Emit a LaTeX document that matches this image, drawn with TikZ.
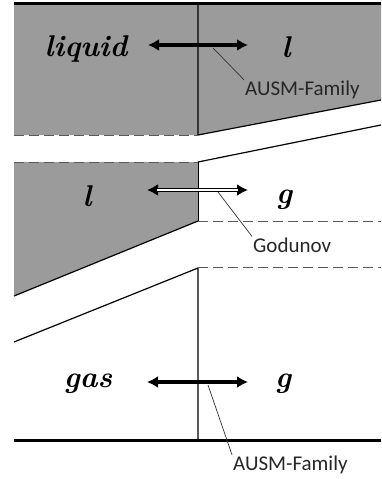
\documentclass[tikz,border=0pt]{standalone}
\usepackage{fontspec}
\newfontfamily\schemefont{Carlito}
\usetikzlibrary{arrows.meta}

\tikzset{
  phase/.style={font=\fontsize{30}{34}\selectfont\bfseries\itshape, inner sep=0pt, anchor=base},
  scheme/.style={font=\schemefont\fontsize{21}{24}\selectfont, inner sep=1pt, anchor=west, text=black!85},
  wall/.style={line width=3pt},
  iface/.style={line width=1.2pt},
  free/.style={dash pattern=on 10pt off 5pt, line width=0.9pt, black!65},
  flux/.style={{Latex[length=11pt,width=12pt]}-{Latex[length=11pt,width=12pt]}, line width=3.2pt},
  pointer/.style={line width=0.7pt, black!80}
}
\definecolor{liqfill}{RGB}{155,155,155}

\begin{document}
\begin{tikzpicture}[x=1pt,y=-1pt]
\useasboundingbox (0,0) rectangle (381,479);

% liquid regions
\fill[liqfill] (14,4) -- (381,4) -- (381,100) -- (198,135) -- (14,135) -- cycle;
\fill[liqfill] (14,162) -- (198,162) -- (198,221) -- (14,296) -- cycle;

% walls and interfaces
\draw[wall] (14,3) -- (381,3);
\draw[wall] (14,440) -- (381,440);
\draw[iface] (198,5) -- (198,135) -- (381,100);
\draw[iface] (198,162) -- (381,125);
\draw[iface, line width=0.8pt] (198,162) -- (198,221);
\draw[iface] (198,221) -- (14,296);
\draw[iface] (14,342) -- (198,268) -- (198,440);
\draw[free] (14,135) -- (198,135);
\draw[free] (14,162) -- (198,162);
\draw[free] (198,221) -- (381,221);
\draw[free] (198,267) -- (381,267);

% phase labels
\node[phase] (liq) at (86,56) {liquid};
\node[phase] (lTop) at (286,57) {l};
\node[phase] (lMid) at (87,206) {l};
\node[phase] (gMid) at (284,203) {g};
\node[phase] (gas) at (88,387) {gas};
\node[phase] (gBot) at (283,387) {g};

% fluxes
\coordinate (fTopL) at (148,45);
\coordinate (fTopR) at (248,45);
\coordinate (fMidL) at (147,190);
\coordinate (fMidR) at (248,190);
\coordinate (fBotL) at (147,382);
\coordinate (fBotR) at (248,382);
\draw[flux] (fTopL) -- (fTopR);
\draw[flux] (fBotL) -- (fBotR);
\draw[flux, line width=4.4pt] (fMidL) -- (fMidR);
\draw[white, line width=2.2pt, shorten <=10pt, shorten >=10pt] (fMidL) -- (fMidR);

% scheme labels
\node[scheme] (ausmTop) at (244,90) {AUSM-Family};
\node[scheme] (godunov) at (252,245) {Godunov};
\node[scheme] (ausmBot) at (232,465) {AUSM-Family};
\coordinate (pTop) at (213,48);
\coordinate (pMid) at (218,192);
\coordinate (pBot) at (208,385);
\draw[pointer] (pTop) -- (ausmTop.north west);
\draw[pointer] (pMid) -- (godunov.north west);
\draw[pointer] (pBot) -- (ausmBot.north west);
\end{tikzpicture}
\end{document}
